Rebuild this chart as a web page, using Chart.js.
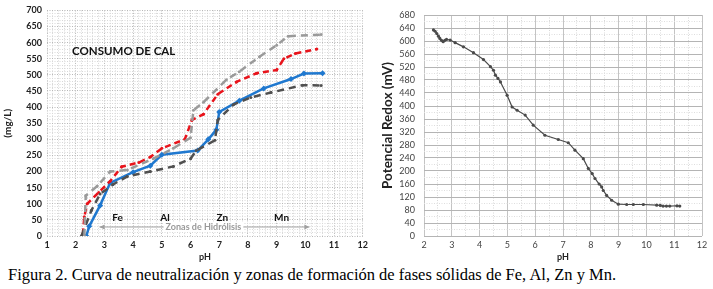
<!DOCTYPE html>
<html>
<head>
<meta charset="utf-8">
<script src="https://cdn.jsdelivr.net/npm/chart.js@4"></script>
<style>
  body { margin: 0; background: #fff; }
  #wrap { position: relative; width: 713px; height: 289px; background: #fff; overflow: hidden; }
  canvas { position: absolute; top: 0; }
  #left { left: 0; }
  #right { left: 380px; }
  #caption {
    position: absolute; left: 8px; top: 265px;
    font-family: "Liberation Serif", "Times New Roman", serif;
    font-size: 16.5px; color: #000; white-space: nowrap;
  }
</style>
</head>
<body>
<div id="wrap">
  <canvas id="left" width="372" height="262"></canvas>
  <canvas id="right" width="333" height="262"></canvas>
  <div id="caption">Figura 2. Curva de neutralización y zonas de formación de fases sólidas de Fe, Al, Zn y Mn.</div>
</div>
<script>
// Consumo de cal (mg/L) vs pH, four titration curves
const bluePH    = [2.37, 2.47, 2.85, 3.2, 4.0, 4.6, 5.0, 6.25, 6.62, 6.9, 7.0, 7.7, 8.55, 9.5, 9.95, 10.6];
const blueCal   = [0, 30, 95, 165, 198, 218, 252, 265, 300, 330, 385, 420, 458, 487, 504, 505];
const redPH     = [2.25, 2.3, 2.4, 2.8, 3.2, 3.6, 4.2, 4.6, 5.0, 5.8, 6.05, 6.45, 6.95, 7.6, 8.3, 9.0, 9.25, 9.65, 10.4];
const redCal    = [5, 60, 100, 135, 170, 215, 228, 245, 272, 300, 360, 378, 440, 478, 505, 515, 550, 566, 580];
const lgrayPH   = [2.3, 2.35, 2.75, 3.2, 3.8, 4.7, 5.4, 6.0, 6.1, 6.45, 7.25, 7.7, 8.4, 9.0, 9.4, 10.55];
const lgrayCal  = [0, 125, 155, 200, 205, 240, 272, 305, 390, 415, 485, 510, 556, 592, 620, 625];
const dgrayPH   = [2.2, 2.55, 2.85, 3.3, 3.8, 4.6, 5.4, 6.0, 6.2, 6.85, 6.95, 7.5, 8.1, 8.8, 9.9, 10.55];
const dgrayCal  = [0, 80, 130, 160, 185, 200, 216, 240, 265, 297, 360, 408, 430, 445, 468, 467];

// Potencial redox (mV) vs pH
const redoxPH = [2.34, 2.4, 2.46, 2.52, 2.57, 2.63, 2.69, 2.75, 2.81, 2.94, 3.12, 3.42, 3.78, 4.14, 4.39, 4.5,
                 4.57, 4.66, 4.75, 4.99, 5.17, 5.35, 5.64, 5.93, 6.35, 6.83, 7.19, 7.43, 7.73, 7.91, 8.05,
                 8.15, 8.3, 8.39, 8.45, 8.57, 8.75, 8.99, 9.29, 9.53, 9.89, 10.37, 10.5, 10.6, 10.72, 10.84, 11.1, 11.2];
const redoxMV = [634, 630, 623, 615, 608, 602, 598, 602, 605, 603, 595, 582, 564, 543, 521, 510,
                 495, 485, 474, 433, 397, 387, 372, 341, 310, 297, 287, 264, 238, 208, 192,
                 177, 160, 151, 140, 125, 110, 98, 97, 97, 97, 95, 94, 92, 92, 92, 93, 92];

// zone labels (pH, mg/L)
const zoneNames = ['Fe', 'Al', 'Zn', 'Mn'];
const zonePH    = [3.46, 5.11, 7.11, 9.17];
const zoneCal   = 58;

const toXY = (xs, ys) => xs.map((x, i) => ({ x, y: ys[i] }));
const isInt = v => Math.abs(v - Math.round(v)) < 1e-6;

const leftAnnotations = {
  id: 'leftAnnotations',
  afterDatasetsDraw(chart) {
    const { ctx, scales: { x, y } } = chart;
    ctx.save();
    ctx.fillStyle = '#111';
    ctx.font = 'bold 11.5px Lato, "Open Sans", sans-serif';
    ctx.textAlign = 'center';
    ctx.textBaseline = 'middle';
    ctx.fillText('CONSUMO DE CAL', x.getPixelForValue(3.67), y.getPixelForValue(572));

    ctx.font = 'bold 10px Lato, "Open Sans", sans-serif';
    zoneNames.forEach((n, i) => {
      ctx.fillText(n, x.getPixelForValue(zonePH[i]), y.getPixelForValue(zoneCal));
    });

    // Zonas de Hidrólisis arrow
    const ay = y.getPixelForValue(28);
    const x0 = x.getPixelForValue(2.83), x1 = x.getPixelForValue(10.14);
    ctx.strokeStyle = '#a0a0a0';
    ctx.fillStyle = '#a0a0a0';
    ctx.lineWidth = 1;
    ctx.beginPath();
    ctx.moveTo(x0, ay); ctx.lineTo(x1, ay);
    ctx.stroke();
    [[x0, 1], [x1, -1]].forEach(([px, d]) => {
      ctx.beginPath();
      ctx.moveTo(px, ay);
      ctx.lineTo(px + 5 * d, ay - 2.5);
      ctx.lineTo(px + 5 * d, ay + 2.5);
      ctx.closePath();
      ctx.fill();
    });
    ctx.font = 'bold 9px Lato, "Open Sans", sans-serif';
    const label = 'Zonas de Hidrólisis';
    const cx = x.getPixelForValue(6.45);
    const w = ctx.measureText(label).width;
    ctx.fillStyle = '#fff';
    ctx.fillRect(cx - w / 2 - 2, ay - 5, w + 4, 10);
    ctx.fillStyle = '#999';
    ctx.fillText(label, cx, ay + 0.5);
    ctx.restore();
  }
};

const lineSet = (label, xs, ys, color, extra) => Object.assign({
  label,
  data: toXY(xs, ys),
  borderColor: color,
  backgroundColor: color,
  borderWidth: 2.5,
  pointRadius: 1.5,
  pointBorderWidth: 0,
  tension: 0,
  fill: false
}, extra);

new Chart(document.getElementById('left'), {
  type: 'line',
  data: {
    datasets: [
      lineSet('gris claro', lgrayPH, lgrayCal, '#9a9a9a', { borderDash: [7, 5] }),
      lineSet('gris oscuro', dgrayPH, dgrayCal, '#505050', { borderDash: [7, 5] }),
      lineSet('rojo', redPH, redCal, '#e8141c', { borderDash: [6, 4] }),
      lineSet('azul', bluePH, blueCal, '#1f78cf', { pointStyle: 'rectRot', pointRadius: 3 })
    ]
  },
  options: {
    responsive: false,
    animation: false,
    layout: { padding: { top: 6, right: 9, bottom: 0, left: 0 } },
    plugins: { legend: { display: false }, tooltip: { enabled: false } },
    scales: {
      x: {
        type: 'linear', min: 1, max: 12,
        afterFit: s => { s.height = 26; },
        ticks: {
          stepSize: 0.2, autoSkip: false, maxRotation: 0, padding: 4,
          color: '#222', font: { size: 9, weight: 'bold', family: 'Lato, sans-serif' },
          callback: v => isInt(v) ? String(Math.round(v)) : ''
        },
        grid: {
          drawTicks: false,
          color: c => isInt(c.tick.value) ? '#b8b8b8' : '#d8d8d8'
        },
        border: { display: false, dash: [1, 1.5] },
        title: { display: true, text: 'pH', padding: { top: 1, bottom: 0 },
                 color: '#222', font: { size: 9, weight: 'bold', family: 'Lato, sans-serif' } }
      },
      y: {
        min: 0, max: 700,
        afterFit: s => { s.width = 47; },
        ticks: {
          stepSize: 10, autoSkip: false, padding: 5,
          color: '#222', font: { size: 9, weight: 'bold', family: 'Lato, sans-serif' },
          callback: v => v % 50 === 0 ? String(v) : ''
        },
        grid: {
          drawTicks: false,
          color: c => c.tick.value % 50 === 0 ? '#b8b8b8' : '#d8d8d8'
        },
        border: { display: false, dash: [1, 1.5] },
        title: { display: true, text: '(mg/L)', padding: { top: 2, bottom: 0 },
                 color: '#222', font: { size: 10, weight: 'bold', family: 'Lato, sans-serif' } }
      }
    }
  },
  plugins: [leftAnnotations]
});

new Chart(document.getElementById('right'), {
  type: 'line',
  data: {
    datasets: [{
      label: 'Potencial Redox',
      data: toXY(redoxPH, redoxMV),
      borderColor: '#4a4a4a',
      backgroundColor: '#4a4a4a',
      borderWidth: 1.2,
      pointRadius: 1.6,
      pointBorderWidth: 0,
      tension: 0,
      fill: false
    }]
  },
  options: {
    responsive: false,
    animation: false,
    layout: { padding: { top: 15, right: 11, bottom: 0, left: 0 } },
    plugins: { legend: { display: false }, tooltip: { enabled: false } },
    scales: {
      x: {
        type: 'linear', min: 2, max: 12,
        afterFit: s => { s.height = 26; },
        ticks: {
          stepSize: 0.5, autoSkip: false, maxRotation: 0, padding: 4,
          color: '#444', font: { size: 9, family: 'Lato, sans-serif' },
          callback: v => isInt(v) ? String(Math.round(v)) : ''
        },
        grid: {
          drawTicks: false,
          color: c => isInt(c.tick.value) ? '#c4c4c4' : '#d8d8d8'
        },
        border: { display: false, dash: c => isInt(c.tick.value) ? [] : [1, 1.5] },
        title: { display: true, text: 'pH', padding: { top: 1, bottom: 0 },
                 color: '#222', font: { size: 9, weight: 'bold', family: 'Lato, sans-serif' } }
      },
      y: {
        min: 0, max: 680,
        afterFit: s => { s.width = 44; },
        ticks: {
          stepSize: 20, autoSkip: false, padding: 9,
          color: '#444', font: { size: 9, family: 'Lato, sans-serif' },
          callback: v => v % 40 === 0 ? String(v) : ''
        },
        grid: {
          drawTicks: false,
          color: c => c.tick.value % 40 === 0 ? '#b4b4b4' : '#dedede'
        },
        border: { display: false, dash: c => c.tick.value % 40 === 0 ? [] : [1, 1.5] },
        title: { display: true, text: 'Potencial Redox (mV)', padding: { top: 0, bottom: 0 },
                 color: '#222', font: { size: 13.5, weight: 'bold', family: 'Lato, sans-serif' } }
      }
    }
  }
});
</script>
</body>
</html>
